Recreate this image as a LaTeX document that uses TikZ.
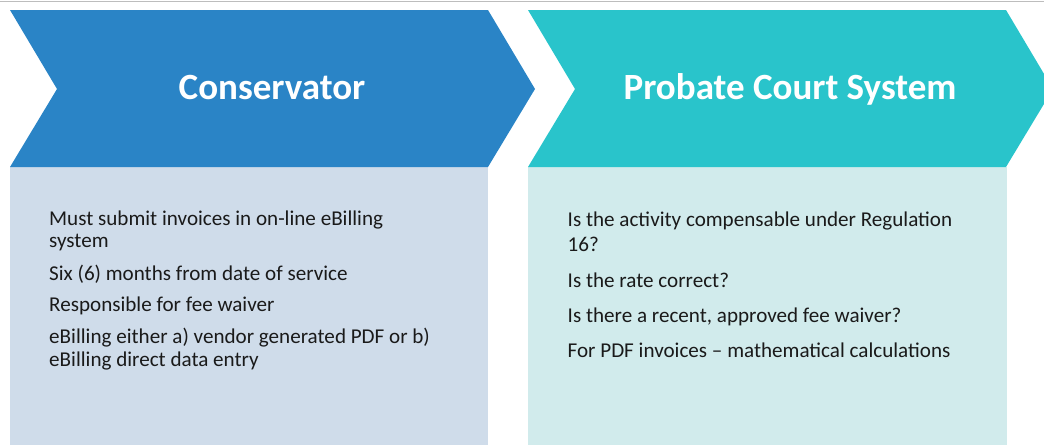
\documentclass[tikz,border=0pt]{standalone}
\usepackage{fontspec}
\setmainfont{Carlito}
\definecolor{chevA}{HTML}{2A84C6}
\definecolor{chevB}{HTML}{29C4CB}
\definecolor{boxA}{HTML}{CFDCEA}
\definecolor{boxB}{HTML}{D1EBEC}
\definecolor{txt}{HTML}{1A1A1A}
\definecolor{rule}{HTML}{BDBDBD}
\begin{document}
\begin{tikzpicture}[x=1pt,y=-1pt,
  title/.style={text=white,font=\bfseries\fontsize{37}{40}\selectfont,anchor=base,inner sep=0pt},
  item/.style={text=txt,font=\fontsize{21.1}{25}\selectfont,anchor=base west,inner sep=0pt}]
\useasboundingbox (0,0) rectangle (1044,445);
% top rule
\draw[rule,line width=1.5pt] (0,1.5) -- (1044,1.5);
% body boxes
\fill[boxA] (10,167) rectangle (488,445);
\fill[boxB] (528,167) rectangle (1007,445);
% chevrons
\fill[chevA] (10,10) -- (488,10) -- (535,89) -- (488,167) -- (10,167) -- (57,89) -- cycle;
\fill[chevB] (528,10) -- (1006,10) -- (1053,89) -- (1006,167) -- (528,167) -- (575,89) -- cycle;
% titles
\node[title] (t1) at (272,99.5) {Conservator};
\node[title] (t2) at (790,99.5) {Probate Court System};
% left items
\node[item] (a1) at (49,225.5) {Must submit invoices in on-line eBilling};
\node[item] (a2) at (49,247) {system};
\node[item] (a3) at (49,280) {Six (6) months from date of service};
\node[item] (a4) at (49,311.5) {Responsible for fee waiver};
\node[item] (a5) at (49,343.5) {eBilling either a) vendor generated PDF or b)};
\node[item] (a6) at (49,366.5) {eBilling direct data entry};
% right items
\node[item] (b1) at (567.5,226) {Is the activity compensable under Regulation};
\node[item] (b2) at (567.5,251) {16?};
\node[item] (b3) at (567.5,287) {Is the rate correct?};
\node[item] (b4) at (567.5,322) {Is there a recent, approved fee waiver?};
\node[item] (b5) at (567.5,357) {For PDF invoices -- mathematical calculations};
\end{tikzpicture}
\end{document}
